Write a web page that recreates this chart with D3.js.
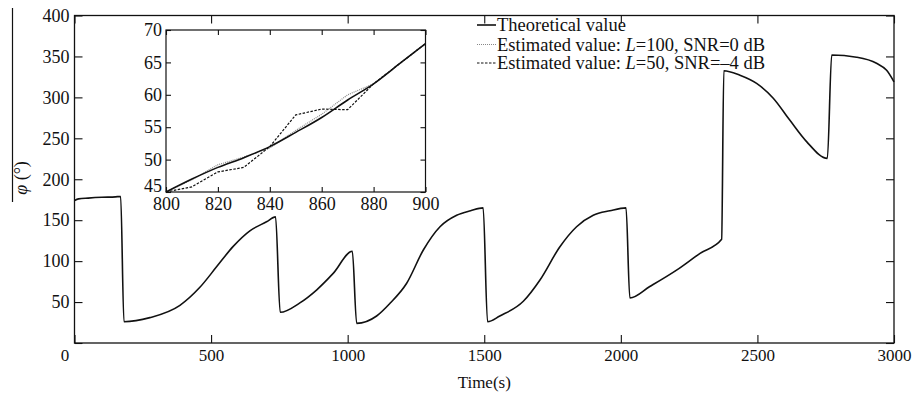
<!DOCTYPE html>
<html><head><meta charset="utf-8">
<script src="https://cdn.jsdelivr.net/npm/d3@7"></script>
<style>
html,body{margin:0;padding:0;background:#fff;}
text{font-family:"Liberation Serif","Times New Roman",serif;fill:#111;}
</style></head>
<body><svg id="c" width="913" height="394"></svg>
<script>
// ---- data ----
const mainTime = [0,15,50,100,150,169,181,276,386,459,520,581,642,703,736,753,825,887,947,1017,1033,1106,1155,1216,1277,1338,1399,1450,1496,1512,1557,1643,1704,1777,1838,1899,1960,2019,2033,2106,2204,2290,2369,2377,2436,2497,2558,2619,2680,2756,2772,2863,2936,2973,3000];
const mainPhi = [174,176,177,178,178.5,179,26,31,46,68,93,118,137,148,154,37.5,49,65,85,112,24,33,48.5,73,113.6,142,156,161.5,165,26,33,51,77,117.6,142,156,161.5,165,55,69,89,109.5,126.6,332.6,327,317,299,272,246,225.5,351.7,349,341.6,333,319];
const insetTime = [800,810,820,830,840,850,860,870,880,890,900];
const insetTheory = [45,47,48.8,50.3,52,54.2,56.5,59.2,61.7,64.8,67.9];
const insetL100 = [45,46.9,49.2,50.4,51.8,54.5,57,60,61.7,64.8,67.9];
const insetL50 = [45,45.8,48.1,48.8,52,56.9,57.8,57.7,61.7,64.8,67.9];
const xTicks = [0,500,1000,1500,2000,2500,3000];
const yTicks = [0,50,100,150,200,250,300,350,400];
const insetXTicks = [800,820,840,860,880,900];
const insetYTicks = [45,50,55,60,65,70];
const legendLabels = ["Theoretical value","Estimated value: ","Estimated value: "];

const svg = d3.select("#c");
const M = {l:74.5, r:894, t:15.5, b:343};
const x = d3.scaleLinear().domain([0,3000]).range([M.l,M.r]);
const y = d3.scaleLinear().domain([0,400]).range([M.b,M.t]);

// main line
const line = d3.line().x((d,i)=>x(mainTime[i])).y(d=>y(d)).curve(d3.curveMonotoneX);
svg.append("path").datum(mainPhi).attr("d",line).attr("fill","none").attr("stroke","#111").attr("stroke-width",1.6);

// axes
function styleAxis(g,fs){ g.select(".domain").remove(); g.selectAll("line").attr("stroke","#111").attr("stroke-width",1.1); g.selectAll("text").style("font-size",fs+"px").attr("fill","#111"); }
const gx = svg.append("g").attr("transform",`translate(0,${M.b})`)
  .call(d3.axisBottom(x).tickValues(xTicks).tickSize(-8).tickPadding(6).tickFormat(d3.format("d")));
styleAxis(gx,17);
gx.selectAll(".tick text").filter(d=>d===0).attr("x",-10);
svg.append("g").attr("transform",`translate(0,${M.t})`)
  .call(d3.axisTop(x).tickValues(xTicks).tickSize(-8).tickFormat("")).call(g=>styleAxis(g,17));
const gy = svg.append("g").attr("transform",`translate(${M.l},0)`)
  .call(d3.axisLeft(y).tickValues(yTicks).tickSize(-8).tickPadding(5).tickFormat(d=>d===0?"":d));
styleAxis(gy,18);
svg.append("g").attr("transform",`translate(${M.r},0)`)
  .call(d3.axisRight(y).tickValues(yTicks).tickSize(-8).tickFormat("")).call(g=>styleAxis(g,17));
svg.append("rect").attr("x",M.l).attr("y",M.t).attr("width",M.r-M.l).attr("height",M.b-M.t)
  .attr("fill","none").attr("stroke","#111").attr("stroke-width",1.3);

// axis titles
svg.append("text").attr("x",x(1500)).attr("y",388).attr("text-anchor","middle").style("font-size","17px").text("Time(s)");
const yl = svg.append("text").attr("transform","translate(27,178) rotate(-90)").attr("text-anchor","middle").style("font-size","18px");
yl.append("tspan").style("font-style","italic").text("φ");
yl.append("tspan").text(" (°)");
svg.append("line").attr("x1",12.5).attr("x2",12.5).attr("y1",8).attr("y2",202).attr("stroke","#111").attr("stroke-width",1.2);

// legend
const leg = svg.append("g");
const rows = [25,44.5,63];
const styles = [{c:"#111",w:1.6,d:null},{c:"#888",w:1.2,d:"1,1"},{c:"#111",w:1.2,d:"2.5,1.5"}];
rows.forEach((ry,i)=>{
  leg.append("line").attr("x1",477).attr("x2",496).attr("y1",ry).attr("y2",ry)
    .attr("stroke",styles[i].c).attr("stroke-width",styles[i].w).attr("stroke-dasharray",styles[i].d);
  const t = leg.append("text").attr("x",497).attr("y",ry+6).style("font-size","18.5px");
  t.append("tspan").text(legendLabels[i]);
  if(i===1){ t.append("tspan").style("font-style","italic").text("L"); t.append("tspan").text("=100, SNR=0 dB"); }
  if(i===2){ t.append("tspan").style("font-style","italic").text("L"); t.append("tspan").text("=50, SNR=\u20134 dB"); }
});

// inset
const I = {l:166, r:425.5, t:30, b:192};
const xi = d3.scaleLinear().domain([800,900]).range([I.l,I.r]);
const yi = d3.scaleLinear().domain([45,70]).range([I.b,I.t]);
svg.append("rect").attr("x",I.l).attr("y",I.t).attr("width",I.r-I.l).attr("height",I.b-I.t).attr("fill","#fff");
const li = arr => d3.line().x((d,i)=>xi(insetTime[i])).y(d=>yi(d))(arr);
svg.append("path").attr("d",li(insetL100)).attr("fill","none").attr("stroke","#888").attr("stroke-width",1.2).attr("stroke-dasharray","1,1");
svg.append("path").attr("d",li(insetL50)).attr("fill","none").attr("stroke","#111").attr("stroke-width",1.2).attr("stroke-dasharray","2.5,1.5");
svg.append("path").attr("d",d3.line().x((d,i)=>xi(insetTime[i])).y(d=>yi(d)).curve(d3.curveMonotoneX)(insetTheory)).attr("fill","none").attr("stroke","#111").attr("stroke-width",1.6);
const gix = svg.append("g").attr("transform",`translate(0,${I.b})`)
  .call(d3.axisBottom(xi).tickValues(insetXTicks).tickSize(-5).tickPadding(5).tickFormat(d3.format("d")));
styleAxis(gix,18);
svg.append("g").attr("transform",`translate(0,${I.t})`)
  .call(d3.axisTop(xi).tickValues(insetXTicks).tickSize(-5).tickFormat("")).call(g=>styleAxis(g,18));
const giy = svg.append("g").attr("transform",`translate(${I.l},0)`)
  .call(d3.axisLeft(yi).tickValues(insetYTicks).tickSize(-5).tickPadding(4).tickFormat(d3.format("d")));
styleAxis(giy,18);
giy.selectAll(".tick text").filter(d=>d===45).attr("dy","-0.05em");
svg.append("g").attr("transform",`translate(${I.r},0)`)
  .call(d3.axisRight(yi).tickValues(insetYTicks).tickSize(-5).tickFormat("")).call(g=>styleAxis(g,18));
svg.append("rect").attr("x",I.l).attr("y",I.t).attr("width",I.r-I.l).attr("height",I.b-I.t)
  .attr("fill","none").attr("stroke","#111").attr("stroke-width",1.2);
</script></body></html>
